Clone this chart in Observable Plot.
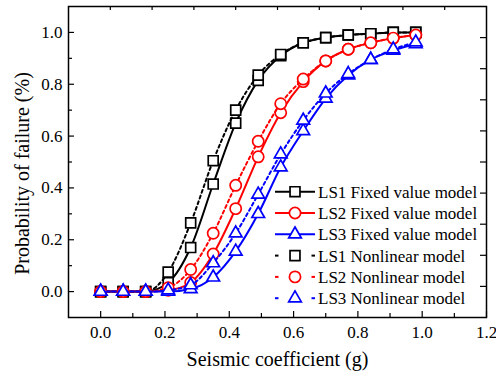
<!DOCTYPE html>
<html>
<head>
<meta charset="utf-8">
<script src="https://cdn.jsdelivr.net/npm/d3@7"></script>
<script src="https://cdn.jsdelivr.net/npm/@observablehq/plot@0.6"></script>
<style>
  html, body { margin: 0; padding: 0; background: #fff; }
  svg { display: block; }
  svg text { font-family: 'Liberation Serif', 'Times New Roman', serif; }
</style>
</head>
<body>
<div id="chart"></div>
<script>
// ---- data ----
const seismic = [0, 0.07, 0.14, 0.21, 0.28, 0.35, 0.42, 0.49, 0.56, 0.63, 0.70, 0.77, 0.84, 0.91, 0.98];
const ls1Fixed = [0, 0, 0, 0.035, 0.17, 0.415, 0.65, 0.815, 0.91, 0.96, 0.98, 0.99, 0.995, 1.0, 1.0];
const ls2Fixed = [0, 0, 0, 0.005, 0.035, 0.145, 0.32, 0.52, 0.69, 0.81, 0.89, 0.935, 0.96, 0.978, 0.99];
const ls3Fixed = [0, 0, 0, 0, 0.01, 0.055, 0.155, 0.30, 0.48, 0.62, 0.745, 0.835, 0.895, 0.93, 0.955];
const ls1Nonlinear = [0, 0, 0, 0.075, 0.265, 0.505, 0.70, 0.835, 0.915, 0.96, 0.98, 0.99, 0.995, 1.0, 1.0];
const ls2Nonlinear = [0, 0, 0, 0.015, 0.085, 0.225, 0.41, 0.58, 0.725, 0.82, 0.89, 0.935, 0.96, 0.978, 0.99];
const ls3Nonlinear = [0, 0, 0, 0.005, 0.025, 0.11, 0.225, 0.375, 0.53, 0.66, 0.765, 0.84, 0.895, 0.935, 0.962];

const seriesNames = ["LS1 Fixed value model", "LS2 Fixed value model", "LS3 Fixed value model",
                     "LS1 Nonlinear model", "LS2 Nonlinear model", "LS3 Nonlinear model"];
const seriesValues = [ls1Fixed, ls2Fixed, ls3Fixed, ls1Nonlinear, ls2Nonlinear, ls3Nonlinear];

const xTickLabels = [0, 0.2, 0.4, 0.6, 0.8, 1.0, 1.2];
const xMinorTicks = [0.1, 0.3, 0.5, 0.7, 0.9, 1.1];
const yTickLabels = [0, 0.2, 0.4, 0.6, 0.8, 1.0];
const yMinorTicks = [0.1, 0.3, 0.5, 0.7, 0.9];
const xDomain = [-0.1, 1.2];
const yDomain = [-0.1, 1.1];
const xTitle = "Seismic coefficient (g)";
const yTitle = "Probability of failure (%)";

// ---- styling ----
const FONT = "'Liberation Serif', 'Times New Roman', serif";
const colors = ["#000000", "#ff0000", "#0000ff", "#000000", "#ff0000", "#0000ff"];
const symbols = ["square", "circle", "triangle", "square", "circle", "triangle"];
const symbolR = {square: 5.6, circle: 5.6, triangle: 4.7};
const d3Sym = {square: d3.symbolSquare, circle: d3.symbolCircle, triangle: d3.symbolTriangle};
const dashed = [false, false, false, true, true, true];

const W = 496, H = 378;
const mL = 68, mR = 10, mT = 6, mB = 61;
const fw = W - mL - mR, fh = H - mT - mB;

// mirrored top/right ticks: 10 equal divisions of the frame
const topTicks = d3.range(1, 10).map(k => xDomain[0] + (xDomain[1] - xDomain[0]) * k / 10);
const rightTicks = d3.range(1, 10).map(k => yDomain[0] + (yDomain[1] - yDomain[0]) * k / 10);

const marks = [];
seriesValues.forEach((vals, i) => {
  const data = seismic.map((x, j) => ({x, y: vals[j]}));
  marks.push(Plot.line(data, {
    x: "x", y: "y", stroke: colors[i], strokeWidth: 2,
    curve: "monotone-x",
    strokeDasharray: dashed[i] ? "3,3" : null
  }));
  marks.push(Plot.dot(data, {
    x: "x", y: "y", symbol: symbols[i], r: symbolR[symbols[i]],
    stroke: colors[i], fill: "white", strokeWidth: 1.7
  }));
});

const chart = Plot.plot({
  width: W, height: H,
  marginLeft: mL, marginRight: mR, marginTop: mT, marginBottom: mB,
  style: {fontFamily: FONT, fontSize: "17px", color: "black", background: "white"},
  x: {domain: xDomain},
  y: {domain: yDomain},
  marks: [
    Plot.axisX(xTickLabels, {tickSize: 0, tickPadding: 8, tickFormat: d3.format(".1f"), label: null, fontSize: 17}),
    Plot.axisY(yTickLabels, {tickSize: 0, tickPadding: 6, tickFormat: d3.format(".1f"), label: null, fontSize: 17}),
    // inward ticks
    Plot.ruleX(xTickLabels, {x: d => d, insetTop: fh - 6, stroke: "black", strokeWidth: 1.2}),
    Plot.ruleX(xMinorTicks, {x: d => d, insetTop: fh - 4, stroke: "black", strokeWidth: 1.2}),
    Plot.ruleY(yTickLabels, {y: d => d, insetRight: fw - 6, stroke: "black", strokeWidth: 1.2}),
    Plot.ruleY(yMinorTicks, {y: d => d, insetRight: fw - 4, stroke: "black", strokeWidth: 1.2}),
    Plot.ruleX(topTicks, {x: d => d, insetBottom: fh - 4, stroke: "black", strokeWidth: 1.2}),
    Plot.ruleY(rightTicks, {y: d => d, insetLeft: fw - 6, stroke: "black", strokeWidth: 1.2}),
    ...marks,
    Plot.frame({stroke: "black", strokeWidth: 1.5}),
    Plot.text([xTitle], {frameAnchor: "bottom", dy: 48, lineAnchor: "bottom", fontSize: 20, fill: "black"})
  ]
});

document.getElementById("chart").appendChild(chart);
const svg = d3.select(chart);

// ---- y axis title ----
svg.append("text")
  .attr("transform", "translate(28.5,173.5) rotate(-90)")
  .attr("text-anchor", "middle")
  .attr("font-family", FONT).attr("font-size", 20).attr("fill", "black")
  .text(yTitle);

// ---- legend (inside plot, lower right) ----
const lg = svg.append("g").attr("font-family", FONT).attr("font-size", 17).attr("text-anchor", "start");
const rowY0 = 191.7, rowStep = 21.3, lx0 = 275, lx1 = 315, lmx = 295, ltx = 318;
seriesNames.forEach((name, i) => {
  const yy = rowY0 + i * rowStep;
  const row = lg.append("g");
  if (dashed[i]) {
    row.append("line").attr("x1", lx0).attr("x2", lx0 + 3.5).attr("y1", yy).attr("y2", yy)
      .attr("stroke", colors[i]).attr("stroke-width", 2);
    row.append("line").attr("x1", lx1 - 3.5).attr("x2", lx1).attr("y1", yy).attr("y2", yy)
      .attr("stroke", colors[i]).attr("stroke-width", 2);
  } else {
    row.append("line").attr("x1", lx0).attr("x2", lx1).attr("y1", yy).attr("y2", yy)
      .attr("stroke", colors[i]).attr("stroke-width", 2);
  }
  const r = symbolR[symbols[i]];
  row.append("path")
    .attr("d", d3.symbol(d3Sym[symbols[i]], Math.PI * r * r)())
    .attr("transform", `translate(${lmx},${yy})`)
    .attr("fill", "white").attr("stroke", colors[i]).attr("stroke-width", 1.7);
  row.append("text").attr("x", ltx).attr("y", yy).attr("dy", "0.35em")
    .attr("text-anchor", "start")
    .attr("fill", "black").text(name);
});
</script>
</body>
</html>
